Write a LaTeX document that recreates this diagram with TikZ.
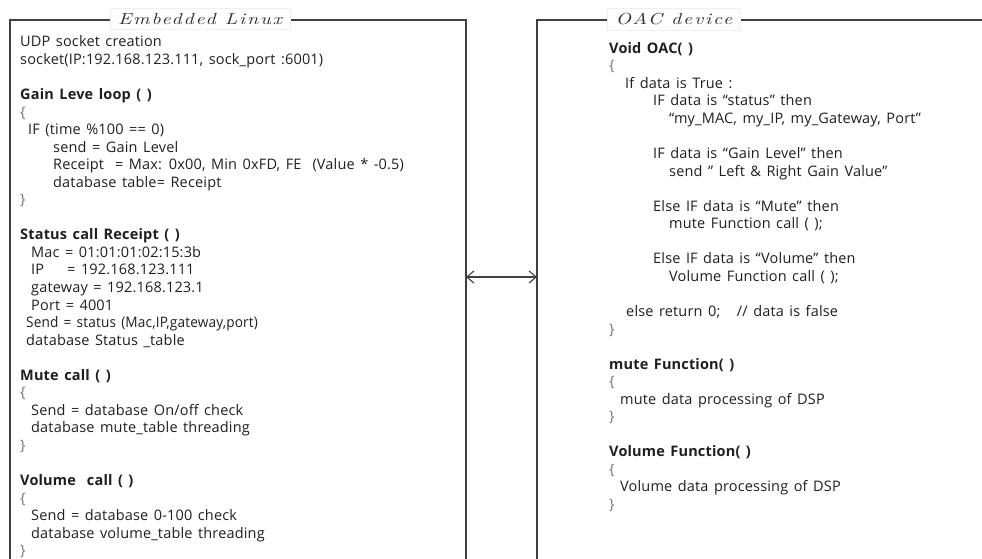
\documentclass[tikz,border=0pt]{standalone}
\usepackage{fontspec}
\newfontfamily\codefont[LetterSpace=1.2, WordSpace=1.4]{Open Sans}
\newfontfamily\titlefont[LetterSpace=9]{lmroman10-italic.otf}
\usetikzlibrary{arrows.meta}
\newcommand\brc[1]{\textcolor{black!55}{#1}}
\newcommand\ind[1]{\hspace*{#1pt}}
\newcommand\firstline{\rule{0pt}{14pt}}
\newcommand\widetitle[1]{\scalebox{1.25}[1]{#1}}
\newcommand\narrowline[1]{\scalebox{0.94}[1]{#1}}

\begin{document}
\begin{tikzpicture}[x=1pt,y=-1pt,
  frame/.style={draw=black!75, line width=1.3pt},
  panetitle/.style={fill=white, draw=black!6, inner xsep=8pt, inner ysep=5pt,
    font=\titlefont\fontsize{16}{18}\selectfont, text=black!80},
  code/.style={align=left, anchor=north west, inner sep=0pt,
    font=\codefont\fontsize{14.5}{17.55}\selectfont, text=black!88},
  link/.style={draw=black!75, line width=1.1pt,
    {Straight Barb[length=7pt,width=12pt]}-{Straight Barb[length=7pt,width=12pt]}}]
\useasboundingbox (0,0) rectangle (982,558);

% open frames of the two panes
\draw[frame] (10,562) -- (10,20) -- (466,20) -- (466,562);
\draw[frame] (986,20) -- (537,20) -- (537,562);

% pane titles
\node[panetitle] (linuxtitle) at (200,19) {\widetitle{Embedded Linux}};
\node[panetitle] (oactitle) at (674,19) {\widetitle{OAC device}};

% Embedded Linux side (first baseline at y = 46.6)
\node[code] (linuxcode) at (20,32.6) {%
\firstline UDP socket creation\\
socket(IP:192.168.123.111, sock\_port :6001)\\
\mbox{}\\
\textbf{Gain Leve loop ( )}\\
\brc{\{}\\
\ind{8}IF (time \%100 == 0)\\
\ind{33}send = Gain Level\\
\ind{33}Receipt \ = Max: 0x00, Min 0xFD, FE \ (Value * -0.5)\\
\ind{33}database table= Receipt\\
\brc{\}}\\
\mbox{}\\
\textbf{Status call Receipt ( )}\\
\ind{11}Mac = 01:01:01:02:15:3b\\
\ind{11}\makebox[36pt][l]{IP}= 192.168.123.111\\
\ind{11}gateway = 192.168.123.1\\
\ind{11}Port = 4001\\
\ind{6}\narrowline{Send = status (Mac,IP,gateway,port)}\\
\ind{6}database Status \_table\\
\mbox{}\\
\textbf{Mute call ( )}\\
\brc{\{}\\
\ind{11}Send = database On/off check\\
\ind{11}database mute\_table threading\\
\brc{\}}\\
\mbox{}\\
\textbf{Volume \ call ( )}\\
\brc{\{}\\
\ind{11}Send = database 0-100 check\\
\ind{11}database volume\_table threading\\
\brc{\}}};

% OAC device side (first baseline at y = 53)
\node[code] (oaccode) at (609,39) {%
\firstline\textbf{Void OAC( )}\\
\brc{\{}\\
\ind{16}If data is True :\\
\ind{44}IF data is “status” then\\
\ind{60}“my\_MAC, my\_IP, my\_Gateway, Port”\\
\mbox{}\\
\ind{44}IF data is “Gain Level” then\\
\ind{60}send ” Left \& Right Gain Value”\\
\mbox{}\\
\ind{44}Else IF data is “Mute” then\\
\ind{60}mute Function call ( );\\
\mbox{}\\
\ind{44}Else IF data is “Volume” then\\
\ind{60}Volume Function call ( );\\
\mbox{}\\
\ind{17}else return 0; \ \ // data is false\\
\brc{\}}\\
\mbox{}\\
\textbf{mute Function( )}\\
\brc{\{}\\
\ind{11}mute data processing of DSP\\
\brc{\}}\\
\mbox{}\\
\textbf{Volume Function( )}\\
\brc{\{}\\
\ind{11}Volume data processing of DSP\\
\brc{\}}};

% link between the panes
\coordinate (linuxedge) at (466,277);
\coordinate (oacedge) at (537,277);
\draw[link] (linuxedge) -- (oacedge);
\end{tikzpicture}
\end{document}
